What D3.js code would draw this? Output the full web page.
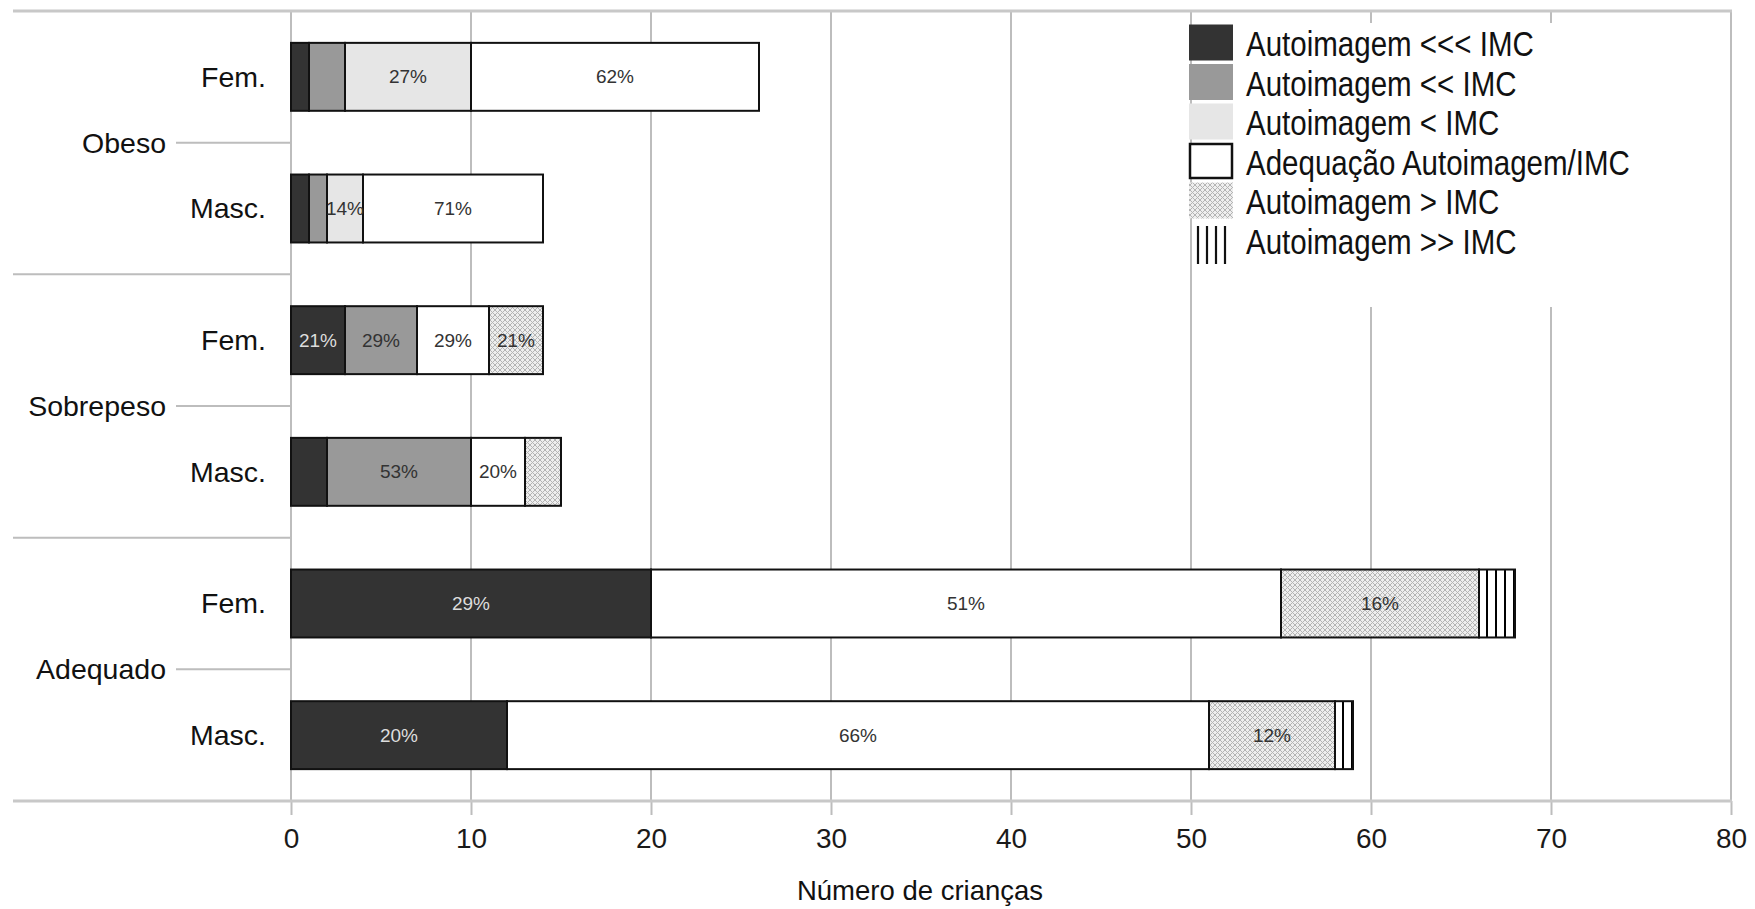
<!DOCTYPE html>
<html>
<head>
<meta charset="utf-8">
<script src="https://cdn.jsdelivr.net/npm/d3@7/dist/d3.min.js"></script>
<style>
  html, body { margin: 0; padding: 0; background: #fff; }
  svg { display: block; }
</style>
</head>
<body>
<svg id="chart" width="1755" height="909"></svg>
<script>
// ---------- DATA ----------
const groups = ["Obeso", "Sobrepeso", "Adequado"];
const sexes = ["Fem.", "Masc."];
const seriesNames = [
  "Autoimagem <<< IMC",
  "Autoimagem << IMC",
  "Autoimagem < IMC",
  "Adequação Autoimagem/IMC",
  "Autoimagem > IMC",
  "Autoimagem >> IMC"
];
// rows order: Obeso Fem, Obeso Masc, Sobrepeso Fem, Sobrepeso Masc, Adequado Fem, Adequado Masc
const s1 = [1, 1, 3, 2, 20, 12];
const s2 = [2, 1, 4, 8, 0, 0];
const s3 = [7, 2, 0, 0, 0, 0];
const s4 = [16, 10, 4, 3, 35, 39];
const s5 = [0, 0, 3, 2, 11, 7];
const s6 = [0, 0, 0, 0, 2, 1];
// which segment labels are displayed (per series, per row)
const showLabel = [
  [0, 0, 1, 0, 1, 1],
  [0, 0, 1, 1, 0, 0],
  [1, 1, 0, 0, 0, 0],
  [1, 1, 1, 1, 1, 1],
  [0, 0, 1, 0, 1, 1],
  [0, 0, 0, 0, 0, 0]
];
const xTicks = [0, 10, 20, 30, 40, 50, 60, 70, 80];
const xTitle = "Número de crianças";

// ---------- SETUP ----------
const seriesValues = [s1, s2, s3, s4, s5, s6];
const rowKeys = [];
groups.forEach(g => sexes.forEach(s => rowKeys.push(g + "|" + s)));
const totals = rowKeys.map((k, i) => d3.sum(seriesValues, v => v[i]));

const svg = d3.select("#chart");
const FONT = "'Liberation Sans', Arial, sans-serif";

const pLeft = 291, pRight = 1731, pTop = 11, pBottom = 801;
const x = d3.scaleLinear().domain([0, 80]).range([pLeft, pRight]);
const y = d3.scaleBand().domain(rowKeys).range([pTop, pBottom]).paddingInner(0.484).paddingOuter(0.242);
const step = y.step();

const defs = svg.append("defs");
const hatch = defs.append("pattern").attr("id", "hatch")
  .attr("patternUnits", "userSpaceOnUse").attr("width", 5).attr("height", 5);
hatch.append("rect").attr("width", 5).attr("height", 5).attr("fill", "#eeeeee");
hatch.append("path").attr("d", "M0,0L5,5M5,0L0,5M-1,4L1,6M4,-1L6,1")
  .attr("stroke", "#b4b4b4").attr("stroke-width", 1);
const vl = defs.append("pattern").attr("id", "vlines")
  .attr("patternUnits", "userSpaceOnUse").attr("width", 9).attr("height", 10);
vl.append("rect").attr("width", 9).attr("height", 10).attr("fill", "#ffffff");
vl.append("rect").attr("x", 1).attr("width", 2).attr("height", 10).attr("fill", "#000");

const fills = ["#333333", "#999999", "#e6e6e6", "#ffffff", "url(#hatch)", "url(#vlines)"];
const labelColors = ["#dddddd", "#333333", "#333333", "#333333", "#333333", "#333333"];

// ---------- GRID ----------
const gridColor = "#bdbdbd";
svg.append("g").selectAll("line").data(xTicks).join("line")
  .attr("x1", d => x(d)).attr("x2", d => x(d))
  .attr("y1", pTop).attr("y2", pBottom)
  .attr("stroke", gridColor).attr("stroke-width", 2);

svg.append("line").attr("x1", 13).attr("x2", pRight + 1).attr("y1", pTop).attr("y2", pTop)
  .attr("stroke", "#c8c8c8").attr("stroke-width", 3);

const xAxis = d3.axisBottom(x).tickValues(xTicks).tickSize(14).tickPadding(13).tickFormat(d3.format("d"));
const gx = svg.append("g").attr("transform", `translate(0,${pBottom})`).call(xAxis);
gx.select(".domain").remove();
gx.selectAll(".tick line").attr("stroke", gridColor).attr("stroke-width", 2);
gx.selectAll(".tick text").attr("fill", "#1a1a1a").style("font-family", FONT).style("font-size", "28px");

svg.append("line").attr("x1", 13).attr("x2", pRight + 1).attr("y1", pBottom).attr("y2", pBottom)
  .attr("stroke", "#c8c8c8").attr("stroke-width", 3);

groups.forEach((g, gi) => {
  if (gi > 0) {
    const ySep = y(g + "|" + sexes[0]) - (step - y.bandwidth()) / 2;
    svg.append("line").attr("x1", 13).attr("x2", pLeft).attr("y1", ySep).attr("y2", ySep)
      .attr("stroke", gridColor).attr("stroke-width", 2);
  }
  const yMid = (y(g + "|" + sexes[0]) + y(g + "|" + sexes[1]) + y.bandwidth()) / 2;
  svg.append("line").attr("x1", 176).attr("x2", pLeft).attr("y1", yMid).attr("y2", yMid)
    .attr("stroke", gridColor).attr("stroke-width", 2);
  svg.append("text").attr("x", 166).attr("y", yMid).attr("dy", "0.35em")
    .attr("text-anchor", "end").attr("fill", "#111")
    .style("font-family", FONT).style("font-size", "28.5px").text(g);
});

svg.append("g").selectAll("text").data(rowKeys).join("text")
  .attr("x", 266).attr("y", d => y(d) + y.bandwidth() / 2).attr("dy", "0.35em")
  .attr("text-anchor", "end").attr("fill", "#111")
  .style("font-family", FONT).style("font-size", "28.5px")
  .text(d => d.split("|")[1]);

// ---------- LEGEND BOX (covers gridlines) ----------
svg.append("rect").attr("x", x(50) + 1.5).attr("y", 23).attr("width", pRight - x(50) - 2.5).attr("height", 284)
  .attr("fill", "#fff");

// ---------- BARS ----------
const stacked = d3.stack().keys(d3.range(6))
  .value((d, k) => seriesValues[k][d])(d3.range(rowKeys.length));

const gBars = svg.append("g");
stacked.forEach((layer, si) => {
  layer.forEach((seg, ri) => {
    const v = seg[1] - seg[0];
    if (v <= 0) return;
    gBars.append("rect")
      .attr("x", x(seg[0])).attr("y", y(rowKeys[ri]))
      .attr("width", x(seg[1]) - x(seg[0])).attr("height", y.bandwidth())
      .attr("fill", fills[si]).attr("stroke", "#111").attr("stroke-width", 2);
  });
});
stacked.forEach((layer, si) => {
  layer.forEach((seg, ri) => {
    const v = seg[1] - seg[0];
    if (v <= 0 || !showLabel[si][ri]) return;
    gBars.append("text")
      .attr("x", (x(seg[0]) + x(seg[1])) / 2)
      .attr("y", y(rowKeys[ri]) + y.bandwidth() / 2).attr("dy", "0.35em")
      .attr("text-anchor", "middle").attr("fill", labelColors[si])
      .style("font-family", FONT).style("font-size", "19px")
      .text(Math.round(v / totals[ri] * 100) + "%");
  });
});

// ---------- LEGEND ----------
const legX = 1189, legY0 = 42.5, legStep = 39.5, swW = 44, swH = 36;
const leg = svg.append("g");
seriesNames.forEach((name, i) => {
  const cy = legY0 + i * legStep;
  if (i < 5) {
    const r = leg.append("rect").attr("x", legX).attr("y", cy - swH / 2)
      .attr("width", swW).attr("height", swH).attr("fill", fills[i]);
    if (i === 3) r.attr("x", legX + 1).attr("y", cy - swH / 2 + 1).attr("width", swW - 2).attr("height", swH - 2)
      .attr("stroke", "#111").attr("stroke-width", 2.5);
  } else {
    [0, 1, 2, 3].forEach(j => {
      leg.append("line").attr("x1", legX + 9 + j * 9).attr("x2", legX + 9 + j * 9)
        .attr("y1", cy - 14).attr("y2", cy + 24)
        .attr("stroke", "#111").attr("stroke-width", 2.2);
    });
  }
  // condensed (narrow) legend text
  leg.append("text").attr("transform", `translate(1246,${cy + 13.5}) scale(0.82,1)`)
    .attr("fill", "#111").style("font-family", FONT).style("font-size", "36px")
    .text(name);
});

// ---------- AXIS TITLE ----------
svg.append("text").attr("x", 920).attr("y", 900).attr("text-anchor", "middle")
  .attr("fill", "#111").style("font-family", FONT).style("font-size", "27.5px").text(xTitle);
</script>
</body>
</html>
